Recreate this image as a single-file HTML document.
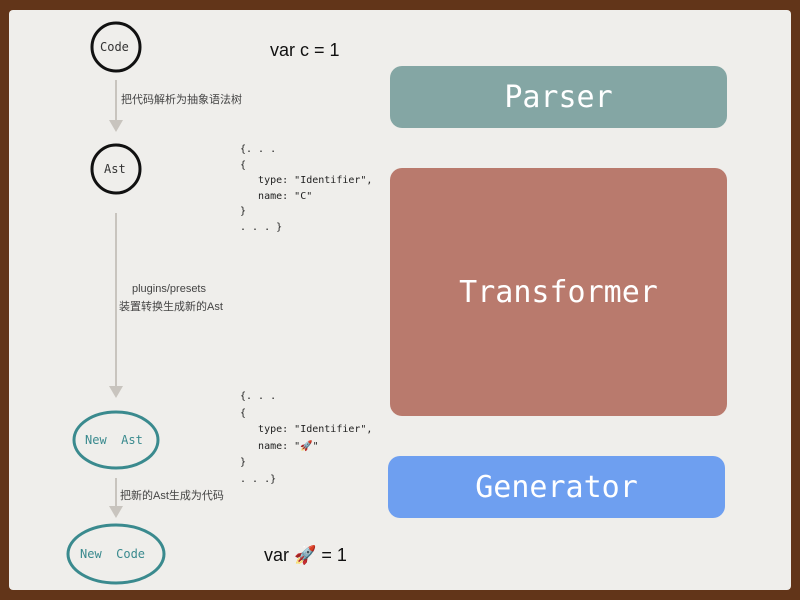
<!DOCTYPE html>
<html><head><meta charset="utf-8"><style>
body{margin:0;width:800px;height:600px;background:#623519;position:relative;overflow:hidden;font-family:"Liberation Sans","Noto Sans CJK SC",sans-serif}
.page{position:absolute;left:9px;top:10px;width:782px;height:580px;background:#efeeeb;border-radius:4px}
.a{position:absolute}
.mono{font-family:"DejaVu Sans Mono","Liberation Mono",monospace}
.box{position:absolute;border-radius:12px;color:#fff;font-family:"DejaVu Sans Mono",monospace;display:flex;align-items:center;justify-content:center;font-size:30px}
.lbl{position:absolute;font-size:11px;color:#444}
.code{position:absolute;font-size:10px;line-height:15.5px;color:#222;white-space:pre}
</style></head><body>
<div class="page"></div>
<svg class="a" style="left:0;top:0" width="800" height="600">
<g fill="none">
<circle cx="116" cy="47" r="24" stroke="#111" stroke-width="3"/>
<circle cx="116" cy="169" r="24" stroke="#111" stroke-width="3"/>
<ellipse cx="116" cy="440" rx="42" ry="28" stroke="#3a8a8e" stroke-width="3"/>
<ellipse cx="116" cy="554" rx="48" ry="29" stroke="#3a8a8e" stroke-width="3"/>
<g stroke="#c8c4be" stroke-width="2">
<line x1="116" y1="80" x2="116" y2="122"/>
<line x1="116" y1="213" x2="116" y2="388"/>
<line x1="116" y1="478" x2="116" y2="508"/>
</g></g>
<g fill="#c8c4be">
<polygon points="109,120 123,120 116,132"/>
<polygon points="109,386 123,386 116,398"/>
<polygon points="109,506 123,506 116,518"/>
</g>
</svg>
<div class="a mono" style="left:100px;top:40px;font-size:12px;color:#333">Code</div>
<div class="a mono" style="left:104px;top:162px;font-size:12px;color:#333">Ast</div>
<div class="a mono" style="left:85px;top:433px;font-size:12px;color:#3a8a8e;white-space:pre">New  Ast</div>
<div class="a mono" style="left:80px;top:547px;font-size:12px;color:#3a8a8e;white-space:pre">New  Code</div>
<div class="lbl" style="left:121px;top:91px">把代码解析为抽象语法树</div>
<div class="lbl" style="left:132px;top:283px">plugins/presets</div>
<div class="lbl" style="left:119px;top:298px">装置转换生成新的Ast</div>
<div class="lbl" style="left:120px;top:487px">把新的Ast生成为代码</div>
<div class="a" style="left:270px;top:40px;font-size:18px;color:#111">var c = 1</div>
<div class="a" style="left:264px;top:545px;font-size:18px;color:#111">var 🚀 = 1</div>
<div class="code mono" style="left:240px;top:142px">{. . .
{
   type: "Identifier",
   name: "C"
}
. . . }</div>
<div class="code mono" style="left:240px;top:389px;line-height:16.5px">{. . .
{
   type: "Identifier",
   name: "🚀"
}
. . .}</div>
<div class="box" style="left:390px;top:66px;width:337px;height:62px;background:#84a6a4">Parser</div>
<div class="box" style="left:390px;top:168px;width:337px;height:248px;background:#b97a6d">Transformer</div>
<div class="box" style="left:388px;top:456px;width:337px;height:62px;background:#6e9ff0">Generator</div>
</body></html>
